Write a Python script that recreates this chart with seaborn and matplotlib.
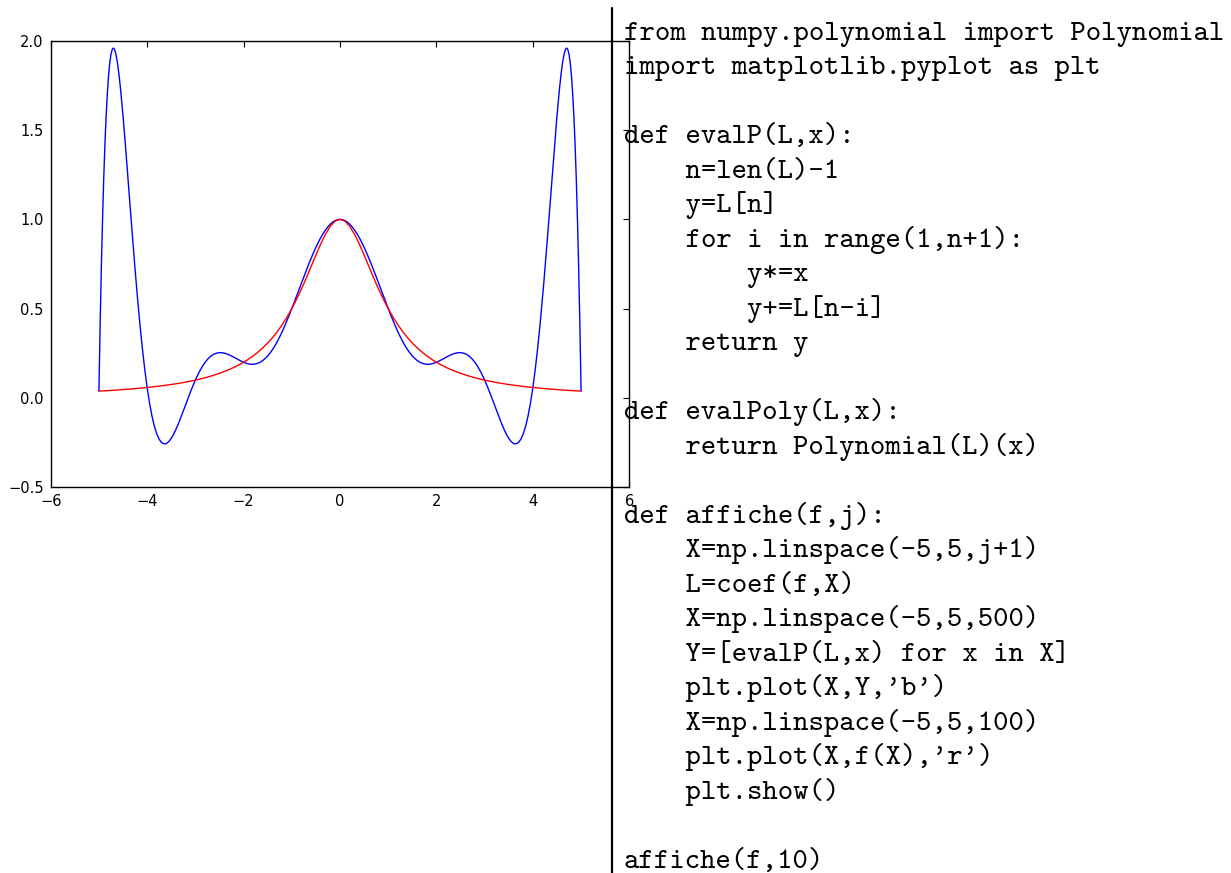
import numpy as np
import pandas as pd
import matplotlib
matplotlib.use('Agg')
import matplotlib.pyplot as plt
from matplotlib.lines import Line2D
import seaborn as sns

# ---- data ----
# interpolating polynomial (blue), sampled densely near the edges
blue_x = np.round(np.concatenate([
    np.linspace(-5.0, -4.225, 32),
    np.linspace(-4.2, 4.15, 168),
    np.linspace(4.2, 5.0, 33),
]), 3)
blue_y = [
    0.0385, 0.4072, 0.7261, 0.9992, 1.2303, 1.4231, 1.5810, 1.7071, 1.8044, 1.8757,
    1.9236, 1.9506, 1.9590, 1.9507, 1.9279, 1.8924, 1.8458, 1.7898, 1.7257, 1.6550,
    1.5787, 1.4981, 1.4143, 1.3280, 1.2402, 1.1517, 1.0631, 0.9750, 0.8881, 0.8028,
    0.7195, 0.6386,
    0.5604, 0.4135, 0.2802, 0.1618, 0.0588, -0.0286, -0.1007, -0.1580, -0.2013, -0.2315,
    -0.2496, -0.2569, -0.2546, -0.2439, -0.2262, -0.2026, -0.1743, -0.1426, -0.1083, -0.0726,
    -0.0363, -0.0003, 0.0349, 0.0685, 0.1000, 0.1291, 0.1554, 0.1786, 0.1987, 0.2156,
    0.2292, 0.2397, 0.2472, 0.2518, 0.2538, 0.2534, 0.2510, 0.2469, 0.2414, 0.2350,
    0.2278, 0.2204, 0.2131, 0.2062, 0.2000, 0.1949, 0.1912, 0.1890, 0.1888, 0.1906,
    0.1946, 0.2010, 0.2099, 0.2213, 0.2353, 0.2519, 0.2710, 0.2926, 0.3165, 0.3426,
    0.3708, 0.4009, 0.4326, 0.4657, 0.5000, 0.5352, 0.5710, 0.6070, 0.6432, 0.6790,
    0.7142, 0.7486, 0.7817, 0.8134, 0.8434, 0.8714, 0.8971, 0.9203, 0.9409, 0.9586,
    0.9733, 0.9849, 0.9933, 0.9983,
    1.0000, 0.9983, 0.9933, 0.9849, 0.9733, 0.9586, 0.9409, 0.9203, 0.8971, 0.8714,
    0.8434, 0.8134, 0.7817, 0.7486, 0.7142, 0.6790, 0.6432, 0.6070, 0.5710, 0.5352,
    0.5000, 0.4657, 0.4326, 0.4009, 0.3708, 0.3426, 0.3165, 0.2926, 0.2710, 0.2519,
    0.2353, 0.2213, 0.2099, 0.2010, 0.1946, 0.1906, 0.1888, 0.1890, 0.1912, 0.1949,
    0.2000, 0.2062, 0.2131, 0.2204, 0.2278, 0.2350, 0.2414, 0.2469, 0.2510, 0.2534,
    0.2538, 0.2518, 0.2472, 0.2397, 0.2292, 0.2156, 0.1987, 0.1786, 0.1554, 0.1291,
    0.1000, 0.0685, 0.0349, -0.0003, -0.0363, -0.0726, -0.1083, -0.1426, -0.1743, -0.2026,
    -0.2262, -0.2439, -0.2546, -0.2569, -0.2496, -0.2315, -0.2013, -0.1580, -0.1007, -0.0286,
    0.0588, 0.1618, 0.2802, 0.4135,
    0.5604, 0.6386, 0.7195, 0.8028, 0.8881, 0.9750, 1.0631, 1.1517, 1.2402, 1.3280,
    1.4143, 1.4981, 1.5787, 1.6550, 1.7257, 1.7898, 1.8458, 1.8924, 1.9279, 1.9507,
    1.9590, 1.9506, 1.9236, 1.8757, 1.8044, 1.7071, 1.5810, 1.4231, 1.2303, 0.9992,
    0.7261, 0.4072, 0.0385,
]

# Runge function (red)
red_x = np.round(np.linspace(-5.0, 5.0, 101), 2)
red_y = [
    0.0385, 0.0400, 0.0416, 0.0433, 0.0451, 0.0471, 0.0491, 0.0513, 0.0536, 0.0561,
    0.0588, 0.0617, 0.0648, 0.0681, 0.0716, 0.0755, 0.0796, 0.0841, 0.0890, 0.0943,
    0.1000, 0.1063, 0.1131, 0.1206, 0.1289, 0.1379, 0.1479, 0.1590, 0.1712, 0.1848,
    0.2000, 0.2169, 0.2358, 0.2571, 0.2809, 0.3077, 0.3378, 0.3717, 0.4098, 0.4525,
    0.5000, 0.5525, 0.6098, 0.6711, 0.7353, 0.8000, 0.8621, 0.9174, 0.9615, 0.9901,
    1.0000,
    0.9901, 0.9615, 0.9174, 0.8621, 0.8000, 0.7353, 0.6711, 0.6098, 0.5525, 0.5000,
    0.4525, 0.4098, 0.3717, 0.3378, 0.3077, 0.2809, 0.2571, 0.2358, 0.2169, 0.2000,
    0.1848, 0.1712, 0.1590, 0.1479, 0.1379, 0.1289, 0.1206, 0.1131, 0.1063, 0.1000,
    0.0943, 0.0890, 0.0841, 0.0796, 0.0755, 0.0716, 0.0681, 0.0648, 0.0617, 0.0588,
    0.0561, 0.0536, 0.0513, 0.0491, 0.0471, 0.0451, 0.0433, 0.0416, 0.0400, 0.0385,
]

x_ticks = [-6, -4, -2, 0, 2, 4, 6]
y_ticks = [-0.5, 0.0, 0.5, 1.0, 1.5, 2.0]

code_lines = [
    "from numpy.polynomial import Polynomial",
    "import matplotlib.pyplot as plt",
    "",
    "def evalP(L,x):",
    "    n=len(L)-1",
    "    y=L[n]",
    "    for i in range(1,n+1):",
    "        y*=x",
    "        y+=L[n-i]",
    "    return y",
    "",
    "def evalPoly(L,x):",
    "    return Polynomial(L)(x)",
    "",
    "def affiche(f,j):",
    "    X=np.linspace(-5,5,j+1)",
    "    L=coef(f,X)",
    "    X=np.linspace(-5,5,500)",
    "    Y=[evalP(L,x) for x in X]",
    "    plt.plot(X,Y,'b')",
    "    X=np.linspace(-5,5,100)",
    "    plt.plot(X,f(X),'r')",
    "    plt.show()",
    "",
    "affiche(f,10)",
]

assert len(blue_x) == len(blue_y)
assert len(red_x) == len(red_y)

# ---- figure ----
sns.set_theme(style="white")
plt.rcParams.update({
    "font.family": ["DejaVu Sans"],
    "axes.edgecolor": "black",
    "axes.linewidth": 1.0,
    "xtick.direction": "in",
    "ytick.direction": "in",
    "xtick.top": True,
    "ytick.right": True,
    "xtick.major.size": 4,
    "ytick.major.size": 4,
    "xtick.major.width": 0.8,
    "ytick.major.width": 0.8,
    "xtick.color": "black",
    "ytick.color": "black",
    "xtick.labelsize": 10.5,
    "ytick.labelsize": 10.5,
})

W, H = 1231, 873
fig = plt.figure(figsize=(W / 100, H / 100), dpi=100)
fig.patch.set_facecolor("white")

ax = fig.add_axes([50.7 / W, 1 - 487.3 / H, (629.3 - 50.7) / W, (487.3 - 40.7) / H])

df_blue = pd.DataFrame({"x": blue_x, "y": blue_y})
df_red = pd.DataFrame({"x": red_x, "y": red_y})
sns.lineplot(data=df_blue, x="x", y="y", ax=ax, color="#0000ff", linewidth=1.0,
             estimator=None, sort=False)
sns.lineplot(data=df_red, x="x", y="y", ax=ax, color="#ff0000", linewidth=1.0,
             estimator=None, sort=False)

ax.set_xlim(-6, 6)
ax.set_ylim(-0.5, 2.0)
ax.set_xticks(x_ticks)
ax.set_yticks(y_ticks)
ax.set_xlabel("")
ax.set_ylabel("")
ax.tick_params(axis="both", which="major", pad=5)
for s in ax.spines.values():
    s.set_visible(True)
    s.set_color("black")

# vertical separator line
fig.add_artist(Line2D([611.5 / W, 611.5 / W], [0, 1 - 8 / H], transform=fig.transFigure,
                      color="black", linewidth=1.6))

# code listing
x0 = 623.5 / W
for i, line in enumerate(code_lines):
    if not line:
        continue
    yb = 40.0 + 34.48 * i
    fig.text(x0, 1 - yb / H, line, family="cmtt10", fontsize=21.15,
             ha="left", va="baseline", color="black")

fig.savefig("out.png", dpi=100, facecolor="white")
